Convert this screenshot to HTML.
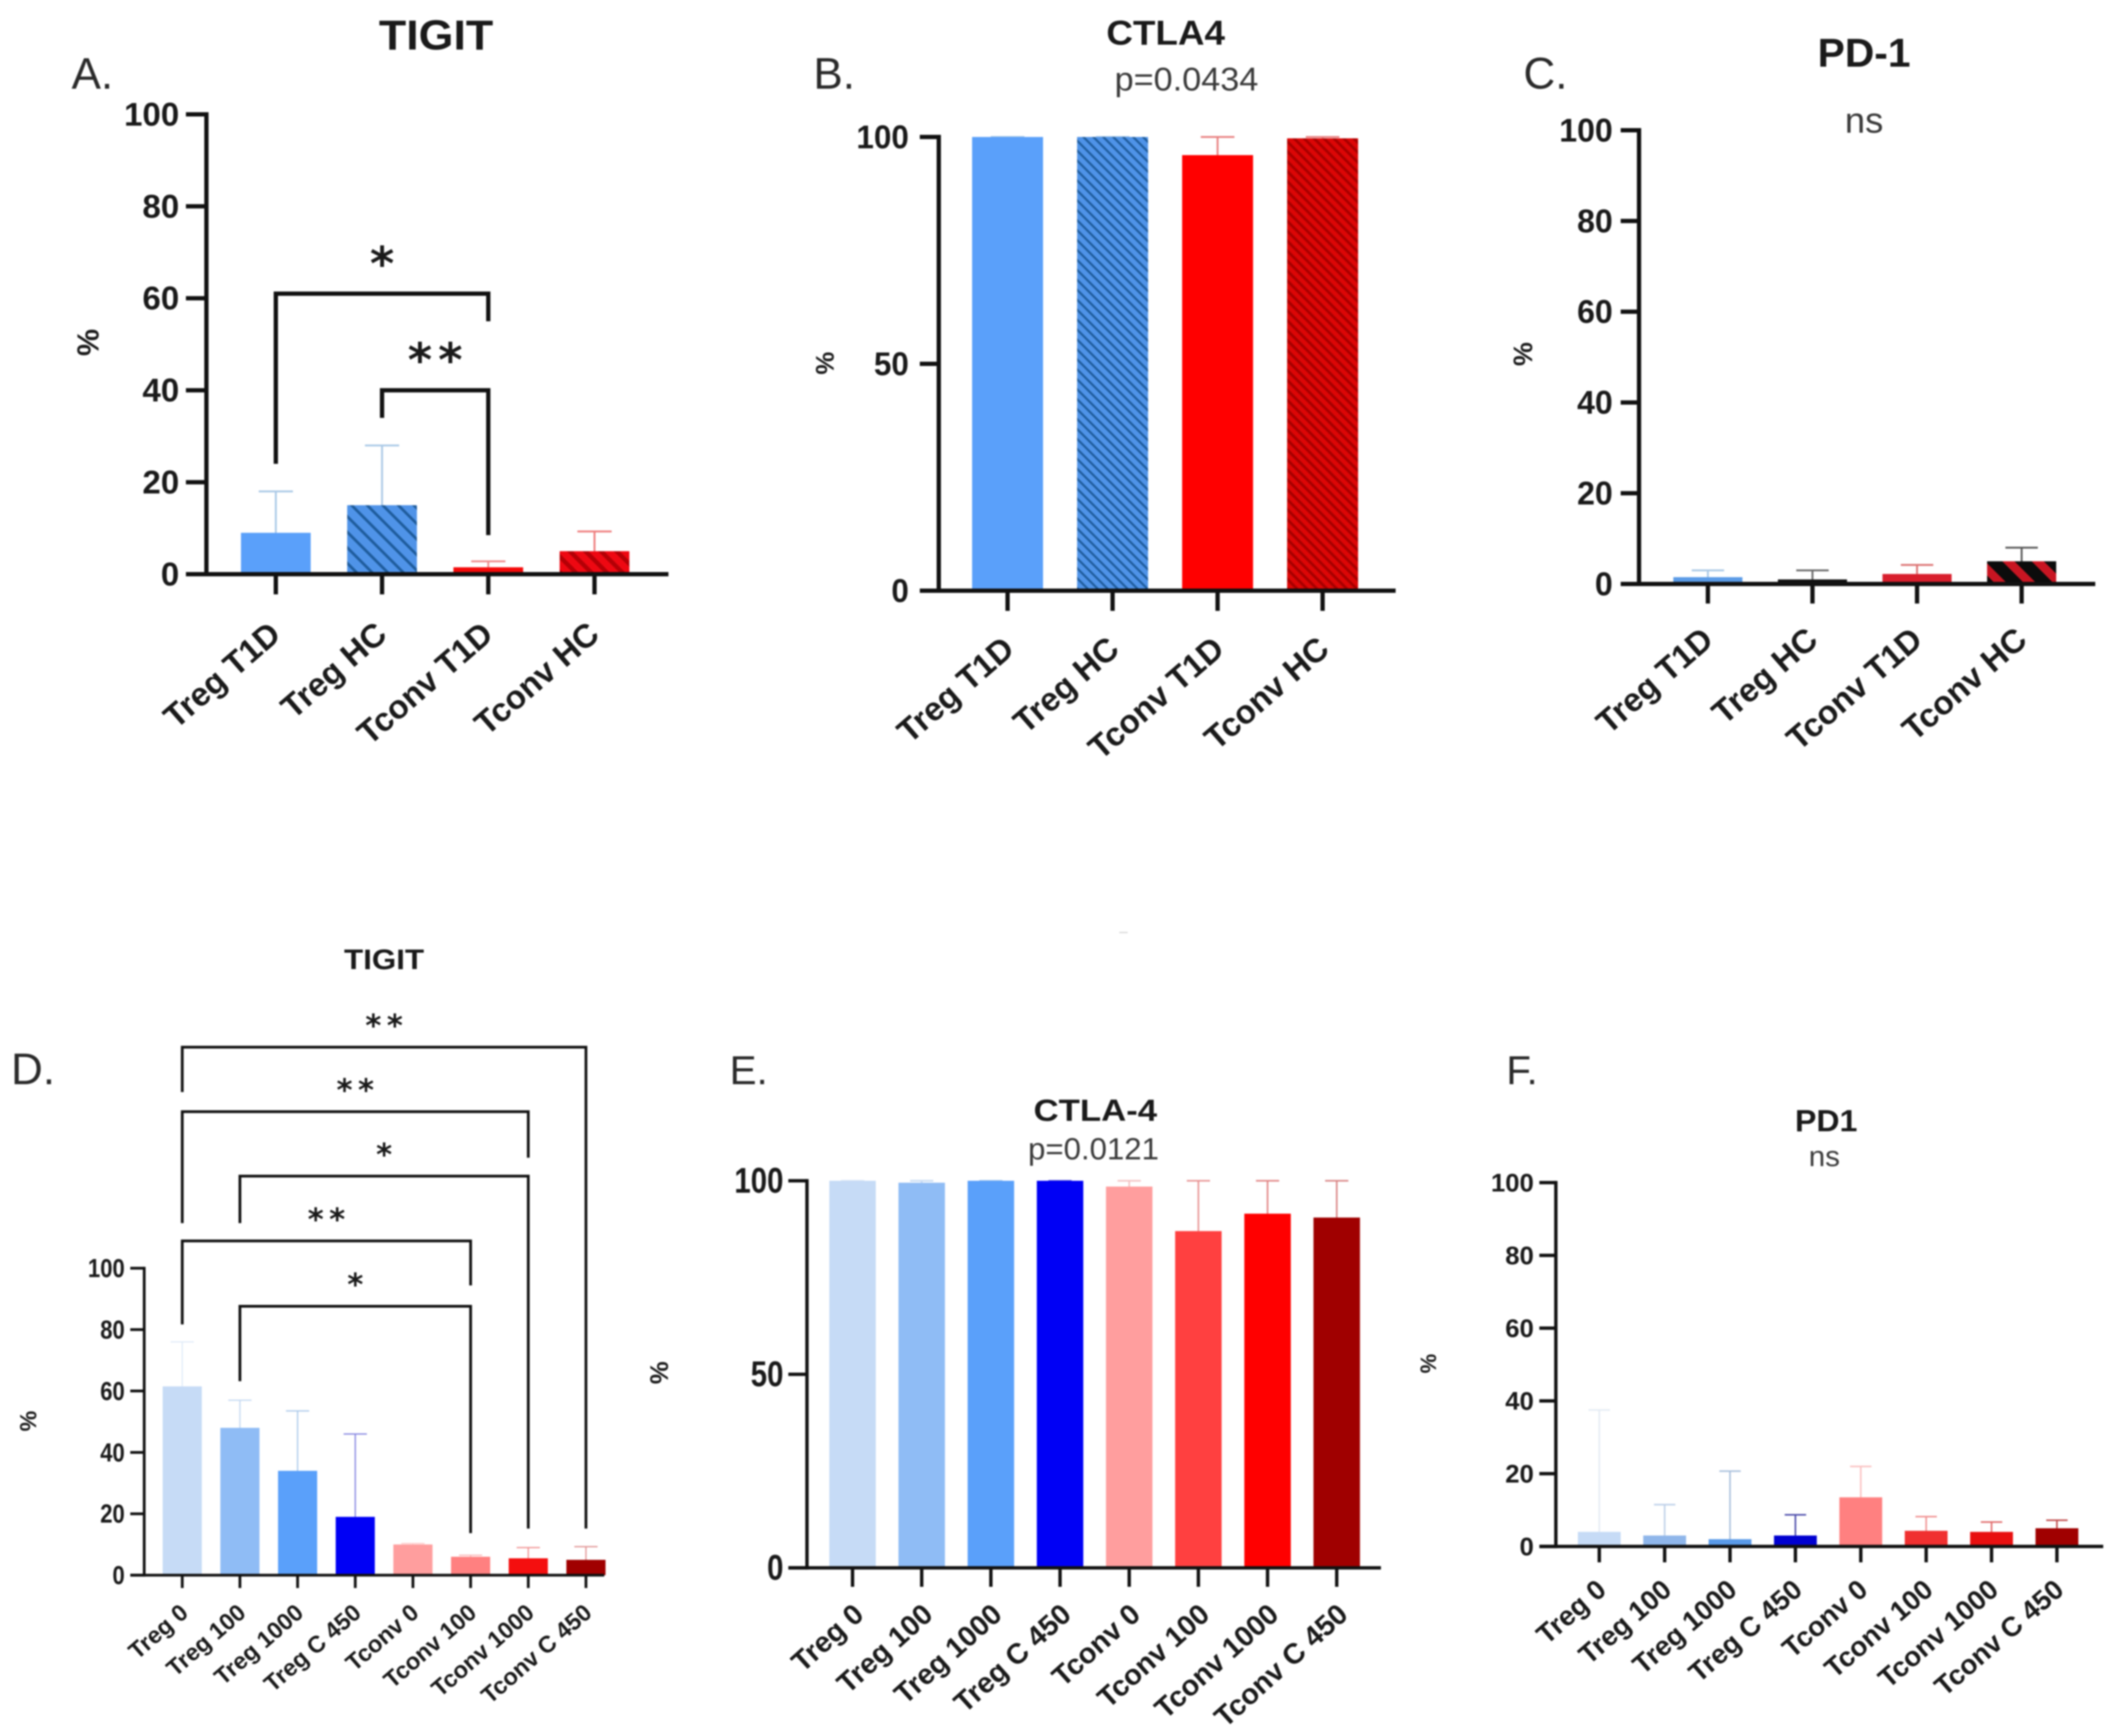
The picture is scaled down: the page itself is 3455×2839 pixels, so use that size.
<!DOCTYPE html>
<html lang="en">
<head>
<meta charset="utf-8">
<title>TIGIT, CTLA4 and PD-1 expression panels</title>
<style>
html,body{margin:0;padding:0;background:#fff;}
#figure{display:block;width:3455px;height:2839px;filter:blur(1.3px);}
text{font-family:"Liberation Sans",Arial,sans-serif;fill:#1a1a1a;}
.title{font-weight:bold;}
.sub{fill:#3a3a3a;}
.letter{fill:#2a2a2a;}
.pct{font-weight:bold;}
</style>
</head>
<body>
<svg id="figure" xmlns="http://www.w3.org/2000/svg" width="3455" height="2839" viewBox="0 0 3455 2839">
  <defs>
    <pattern id="hatchBlueA" width="18" height="18" patternUnits="userSpaceOnUse" patternTransform="rotate(-45)">
      <rect width="18" height="18" fill="#4f93e8"/><rect x="0" width="4.5" height="18" fill="#1f5c9c"/>
    </pattern>
    <pattern id="hatchRedA" width="18" height="18" patternUnits="userSpaceOnUse" patternTransform="rotate(-45)">
      <rect width="18" height="18" fill="#ee0812"/><rect x="0" width="7" height="18" fill="#b40006"/>
    </pattern>
    <pattern id="hatchBlueB" width="11.5" height="11.5" patternUnits="userSpaceOnUse" patternTransform="rotate(-45)">
      <rect width="11.5" height="11.5" fill="#4f93e8"/><rect x="0" width="3.5" height="11.5" fill="#1f5c9c"/>
    </pattern>
    <pattern id="hatchRedB" width="11.5" height="11.5" patternUnits="userSpaceOnUse" patternTransform="rotate(-45)">
      <rect width="11.5" height="11.5" fill="#dc0606"/><rect x="0" width="4.5" height="11.5" fill="#a80000"/>
    </pattern>
    <pattern id="hatchBlackC" width="34" height="34" patternUnits="userSpaceOnUse" patternTransform="rotate(-45)">
      <rect width="34" height="34" fill="#0c0c0c"/><rect x="0" width="14" height="34" fill="#c81522"/>
    </pattern>
  </defs>

  <text class="title" x="713" y="81" font-size="69" text-anchor="middle" textLength="187" lengthAdjust="spacingAndGlyphs">TIGIT</text>
  <text class="letter" x="117" y="145" font-size="72">A.</text>
  <text class="pct" font-size="50" text-anchor="middle" transform="translate(161 560) rotate(-90)">%</text>

  <text class="title" x="1906" y="73" font-size="57" text-anchor="middle" textLength="194" lengthAdjust="spacingAndGlyphs">CTLA4</text>
  <text class="sub" x="1940" y="148" font-size="54" text-anchor="middle" textLength="235" lengthAdjust="spacingAndGlyphs">p=0.0434</text>
  <text class="letter" x="1330" y="145" font-size="72">B.</text>
  <text class="pct" font-size="42" text-anchor="middle" transform="translate(1363 594) rotate(-90)">%</text>

  <text class="title" x="3048" y="109" font-size="66" text-anchor="middle" textLength="152" lengthAdjust="spacingAndGlyphs">PD-1</text>
  <text class="sub" x="3048" y="217" font-size="58" text-anchor="middle" textLength="63" lengthAdjust="spacingAndGlyphs">ns</text>
  <text class="letter" x="2491" y="145" font-size="72">C.</text>
  <text class="pct" font-size="44" text-anchor="middle" transform="translate(2505 579) rotate(-90)">%</text>

  <text class="title" x="628" y="1585" font-size="46" text-anchor="middle" textLength="131" lengthAdjust="spacingAndGlyphs">TIGIT</text>
  <text class="letter" x="18" y="1773" font-size="72">D.</text>
  <text class="pct" font-size="38" text-anchor="middle" transform="translate(59 2324) rotate(-90)">%</text>

  <text class="title" x="1791" y="1833" font-size="50" text-anchor="middle" textLength="202" lengthAdjust="spacingAndGlyphs">CTLA-4</text>
  <text class="sub" x="1788" y="1896" font-size="50" text-anchor="middle" textLength="214" lengthAdjust="spacingAndGlyphs">p=0.0121</text>
  <text class="letter" x="1193" y="1773" font-size="66">E.</text>
  <text class="pct" font-size="42" text-anchor="middle" transform="translate(1092 2245) rotate(-90)">%</text>

  <text class="title" x="2986" y="1850" font-size="50" text-anchor="middle" textLength="102" lengthAdjust="spacingAndGlyphs">PD1</text>
  <text class="sub" x="2983" y="1907" font-size="46" text-anchor="middle" textLength="51" lengthAdjust="spacingAndGlyphs">ns</text>
  <text class="letter" x="2463" y="1773" font-size="66">F.</text>
  <text class="pct" font-size="36" text-anchor="middle" transform="translate(2348 2230) rotate(-90)">%</text>

  <rect x="1830" y="1524" width="14" height="2" fill="#d8d8d8"/>
  <g id="charts"></g>
</svg>

<script>
// ---- Data ----
const categoriesFour = ['Treg T1D', 'Treg HC', 'Tconv T1D', 'Tconv HC'];
const categoriesEight = ['Treg 0', 'Treg 100', 'Treg 1000', 'Treg C 450', 'Tconv 0', 'Tconv 100', 'Tconv 1000', 'Tconv C 450'];

const ticksFull = [0, 20, 40, 60, 80, 100];
const ticksCoarse = [0, 50, 100];

const valuesA = [9, 15, 1.5, 5];
const errorTopsA = [18, 28, 2.8, 9.3];
const valuesB = [100, 100, 96, 99.7];
const errorTopsB = [100, 100, 100, 100];
const valuesC = [1.5, 1, 2.2, 5];
const errorTopsC = [3, 3, 4.2, 8];
const valuesD = [61.5, 48, 34, 19, 10, 6, 5.5, 5];
const errorTopsD = [76, 57, 53.5, 46, 10.3, 6.5, 9, 9.3];
const valuesE = [100, 99.5, 100, 100, 98.5, 87, 91.5, 90.5];
const errorTopsE = [100, 100, 100, 100, 100, 100, 100, 100];
const valuesF = [4, 3, 2, 3, 13.5, 4.3, 4, 5];
const errorTopsF = [37.5, 11.5, 20.7, 8.7, 22, 8.2, 6.7, 7.2];

// Significance brackets, in group index and axis value units
const bracketsA = [
  {from: 0, to: 2, level: 61, leftEnd: 24, rightEnd: 55, mark: '*'},
  {from: 1, to: 2, level: 40, leftEnd: 34, rightEnd: 8.5, mark: '**'}
];
const bracketsD = [
  {from: 0, to: 7, level: 172, leftEnd: 157.4, rightEnd: 15.2, mark: '**'},
  {from: 0, to: 6, level: 151, leftEnd: 114.7, rightEnd: 136, mark: '**'},
  {from: 1, to: 6, level: 130, leftEnd: 114.7, rightEnd: 15.2, mark: '*'},
  {from: 0, to: 5, level: 108.9, leftEnd: 81.7, rightEnd: 94.4, mark: '**'},
  {from: 1, to: 5, level: 87.6, leftEnd: 63.2, rightEnd: 13.7, mark: '*'}
];

// ---- Layout and style ----
const panels = [
  {key: 'a', cats: categoriesFour, vals: valuesA, errs: errorTopsA, ticks: ticksFull, brackets: bracketsA,
   axisX: 337.5, y0: 939, y100: 187, first: 451, step: 173.7, barW: 114, capW: 56, xEnd: 1093, tickStart: 304,
   tickDown: 33, line: 7, errLine: 3, numFont: 54, numSx: 1, numRight: 293, catFont: 54, catAngle: -41, catDx: 11, catY: 1042,
   starFont: 76, starGap: 61, starSpace: 10,
   fills: ['#5aa0fa', 'url(#hatchBlueA)', '#f40a0a', 'url(#hatchRedA)'],
   errColors: ['#a9c8e6', '#a9c8e6', '#ee8a8a', '#ee7a7a']},
  {key: 'b', cats: categoriesFour, vals: valuesB, errs: errorTopsB, ticks: ticksCoarse, brackets: [],
   axisX: 1535, y0: 966, y100: 224, first: 1647.5, step: 171.7, barW: 116, capW: 55, xEnd: 2282, tickStart: 1504,
   tickDown: 33, line: 7, errLine: 3, numFont: 54, numSx: 0.95, numRight: 1486, catFont: 54, catAngle: -41, catDx: 14, catY: 1066,
   starFont: 76, starGap: 61, starSpace: 10,
   fills: ['#5aa0fa', 'url(#hatchBlueB)', '#ff0000', 'url(#hatchRedB)'],
   errColors: ['#a9c8e6', '#a9c8e6', '#e88080', '#e88080']},
  {key: 'c', cats: categoriesFour, vals: valuesC, errs: errorTopsC, ticks: ticksFull, brackets: [],
   axisX: 2680, y0: 955, y100: 213, first: 2792.6, step: 171, barW: 113, capW: 53, xEnd: 3426, tickStart: 2650,
   tickDown: 32, line: 7, errLine: 3, numFont: 54, numSx: 0.97, numRight: 2637, catFont: 54, catAngle: -41, catDx: 12, catY: 1051,
   starFont: 76, starGap: 61, starSpace: 10,
   fills: ['#5b9be6', '#101010', '#d81f2d', 'url(#hatchBlackC)'],
   errColors: ['#a9c8e6', '#666666', '#dc7070', '#555555']},
  {key: 'd', cats: categoriesEight, vals: valuesD, errs: errorTopsD, ticks: ticksFull, brackets: bracketsD,
   axisX: 235.8, y0: 2576, y100: 2074, first: 298, step: 94.3, barW: 64, capW: 38, xEnd: 988, tickStart: 213,
   tickDown: 21, line: 4.5, errLine: 2, numFont: 43, numSx: 0.84, numRight: 204, catFont: 38.5, catAngle: -41, catDx: 12, catY: 2641,
   starFont: 50, starGap: 43, starSpace: 9,
   fills: ['#c6dbf6', '#8fbcf5', '#5aa0fa', '#0000f5', '#ff9e9e', '#ff8080', '#f40f0f', '#a00000'],
   errColors: ['#e0ebf8', '#c3d8f2', '#a9c8ea', '#8080e0', '#ffcccc', '#fbb8b8', '#f09090', '#e09090']},
  {key: 'e', cats: categoriesEight, vals: valuesE, errs: errorTopsE, ticks: ticksCoarse, brackets: [],
   axisX: 1319.5, y0: 2564, y100: 1931, first: 1394, step: 113.1, barW: 76, capW: 38, xEnd: 2258, tickStart: 1289,
   tickDown: 31, line: 5.5, errLine: 2.5, numFont: 58, numSx: 0.83, numRight: 1281, catFont: 47, catAngle: -42, catDx: 21, catY: 2644,
   starFont: 50, starGap: 43, starSpace: 9,
   fills: ['#c6dbf6', '#8fbcf5', '#5aa0fa', '#0000f5', '#ff9e9e', '#ff4040', '#ff0000', '#a00000'],
   errColors: ['#dbe7f6', '#c3d8f2', '#a9c8ea', '#6060d8', '#f4c0c0', '#e89090', '#e08080', '#d88080']},
  {key: 'f', cats: categoriesEight, vals: valuesF, errs: errorTopsF, ticks: ticksFull, brackets: [],
   axisX: 2544, y0: 2529, y100: 1934, first: 2615, step: 106.9, barW: 70, capW: 35, xEnd: 3439, tickStart: 2517,
   tickDown: 26, line: 5.5, errLine: 2.5, numFont: 42, numSx: 1, numRight: 2508, catFont: 45, catAngle: -41, catDx: 14, catY: 2604,
   starFont: 50, starGap: 43, starSpace: 9,
   fills: ['#c6dbf6', '#8fb6ea', '#5a9ae8', '#0000d0', '#ff8080', '#f03030', '#e81010', '#a00000'],
   errColors: ['#e4ebf4', '#bccfe8', '#a9c0dc', '#4848a8', '#fbc0c0', '#f09090', '#e06868', '#c04848']}
];

const SVG_NS = 'http://www.w3.org/2000/svg';
const root = document.getElementById('charts');

function make(parent, tag, attrs, content) {
  const el = document.createElementNS(SVG_NS, tag);
  Object.keys(attrs).forEach(function (k) { el.setAttribute(k, attrs[k]); });
  if (content !== undefined) el.textContent = content;
  parent.appendChild(el);
  return el;
}

function slug(s) {
  return s.toLowerCase().replace(/\s+/g, '-');
}

panels.forEach(function (p) {
  const yScale = function (v) { return p.y0 - (v / 100) * (p.y0 - p.y100); };
  const xScale = function (i) { return p.first + i * p.step; };

  const chart = make(root, 'g', {});
  
  

  // error bars, then bars
  p.vals.forEach(function (v, i) {
    const cx = xScale(i);
    const top = yScale(p.errs[i]);
    const stem = make(chart, 'path', {
      d: 'M' + cx + ' ' + yScale(v) + 'V' + top + 'M' + (cx - p.capW / 2) + ' ' + top + 'H' + (cx + p.capW / 2),
      fill: 'none', stroke: p.errColors[i], 'stroke-width': p.errLine
    });
    
    

    const bar = make(chart, 'rect', {
      x: cx - p.barW / 2, y: yScale(v), width: p.barW, height: p.y0 - yScale(v), fill: p.fills[i]
    });
    
    
  });

  // y axis
  const yAxis = make(chart, 'line', {
    x1: p.axisX, x2: p.axisX, y1: yScale(100) - p.line / 2, y2: p.y0 + p.line / 2, stroke: '#111', 'stroke-width': p.line
  });
  
  

  p.ticks.forEach(function (t) {
    const tick = make(chart, 'line', {
      x1: p.tickStart, x2: p.axisX, y1: yScale(t), y2: yScale(t), stroke: '#111', 'stroke-width': p.line
    });
    
    

    const label = make(chart, 'text', {
      'font-size': p.numFont, 'font-weight': 'bold', 'text-anchor': 'end',
      transform: 'translate(' + p.numRight + ' ' + (yScale(t) + p.numFont * 0.34) + ') scale(' + p.numSx + ' 1)'
    }, String(t));
    
    
  });

  // x axis
  const xAxis = make(chart, 'line', {
    x1: p.tickStart, x2: p.xEnd, y1: p.y0, y2: p.y0, stroke: '#111', 'stroke-width': p.line
  });
  
  

  p.cats.forEach(function (c, i) {
    const cx = xScale(i);
    const tick = make(chart, 'line', {
      x1: cx, x2: cx, y1: p.y0, y2: p.y0 + p.tickDown, stroke: '#111', 'stroke-width': p.line
    });
    
    

    const lx = cx + p.catDx;
    const label = make(chart, 'text', {
      'font-size': p.catFont, 'font-weight': 'bold', 'text-anchor': 'end',
      transform: 'translate(' + lx + ' ' + p.catY + ') rotate(' + p.catAngle + ')'
    }, c);
    
    
  });

  // significance brackets
  p.brackets.forEach(function (b, n) {
    const xa = xScale(b.from);
    const xb = xScale(b.to);
    const yTop = yScale(b.level);
    const br = make(chart, 'path', {
      d: 'M' + xa + ' ' + yScale(b.leftEnd) + 'V' + yTop + 'H' + xb + 'V' + yScale(b.rightEnd),
      fill: 'none', stroke: '#111', 'stroke-width': p.line
    });
    
    

    const star = make(chart, 'text', {
      x: (xa + xb) / 2 + (b.mark.length > 1 ? p.starSpace / 2 : 0), y: yTop - p.starGap + p.starFont * 0.5, 'font-size': p.starFont, 'font-weight': 'bold',
      'text-anchor': 'middle', 'letter-spacing': b.mark.length > 1 ? p.starSpace : 0,
      style: 'font-family:"DejaVu Sans",sans-serif'
    }, b.mark);
    
    
  });
});
</script>
</body>
</html>
